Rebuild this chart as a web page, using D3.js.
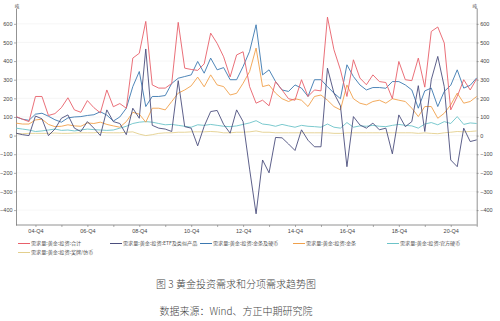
<!DOCTYPE html>
<meta charset="utf-8">
<head>
  <title>黄金投资需求和分项需求趋势图</title>
</head>

<style>
  body { margin: 0; background: #fff; }
  text { font-family: "Liberation Sans", "Noto Sans CJK SC", sans-serif; }
  .cjk { font-family: "Noto Sans CJK SC", sans-serif; }
</style>

<body>

  <div id="my_dataviz"></div>

  <script src="https://d3js.org/d3.v7.min.js"></script>

  <script>

  // quarters 04-Q1 ... 21-Q4
  var quarters = [];
  for (var yr = 4; yr <= 21; yr++) {
    for (var q = 1; q <= 4; q++) {
      quarters.push((yr < 10 ? "0" + yr : "" + yr) + "-Q" + q);
    }
  }

  var tickLabels = ["04-Q4", "06-Q4", "08-Q4", "10-Q4", "12-Q4", "14-Q4", "16-Q4", "18-Q4", "20-Q4"];
  var yTicks = [-400, -300, -200, -100, 0, 100, 200, 300, 400, 500, 600];

  // 需求量:黄金:投资:合计
  var totalInv = [102, 88, 75, 210, 210, 108, 118, 150, 203, 138,
    125, 188, 150, 122, 245, 155, 172, 147, 416, 442,
    613, 272, 255, 255, 280, 608, 362, 355, 350, 385,
    550, 495, 423, 315, 433, 450, 263, 174, 190, 160,
    290, 245, 198, 190, 300, 210, 245, 240, 636, 461,
    353, 210, 407, 309, 273, 326, 290, 285, 198, 398,
    300, 295, 416, 260, 559, 583, 497, 138, 210, 300,
    245, 305];

  // 需求量:黄金:投资:ETF及类似产品
  var etfInv = [13, 5, 0, 105, 90, 0, 35, 93, 111, 40,
    22, 75, 40, 0, 138, 75, 65, 5, 147, 93,
    465, 55, 40, 35, 22, 295, 48, 40, -55, 50,
    129, 135, 60, 13, 138, 75, -180, -420, -131, -200,
    -10, -12, -45, -80, 31, -25, -60, -60, 362, 228,
    160, -167, 102, 57, 40, 67, 31, 40, -98, 111,
    48, 75, 268, 22, 300, 425, 263, -131, -167, 40,
    -32, -23];

  // 需求量:黄金:投资:金条及硬币
  var barCoinInv = [100, 88, 82, 115, 120, 104, 85, 72, 95, 100,
    102, 108, 112, 128, 110, 78, 100, 147, 263, 344,
    156, 210, 210, 215, 280, 308, 317, 326, 398, 335,
    416, 353, 365, 300, 300, 371, 452, 595, 326, 353,
    290, 245, 237, 272, 255, 210, 300, 300, 263, 228,
    198, 380, 317, 272, 245, 258, 258, 254, 290, 290,
    272, 245, 147, 240, 255, 156, 237, 270, 353, 255,
    270, 310];

  // 需求量:黄金:投资:金条
  var barInv = [67, 62, 62, 84, 88, 60, 48, 50, 58, 52,
    50, 68, 65, 72, 60, 52, 45, 75, 125, 115,
    72, 147, 147, 138, 183, 228, 245, 267, 314, 262,
    326, 272, 263, 218, 227, 281, 344, 470, 263, 272,
    228, 198, 183, 198, 190, 156, 210, 218, 190, 156,
    138, 272, 198, 174, 165, 183, 190, 174, 198, 190,
    183, 147, 102, 156, 156, 93, 120, 165, 228, 174,
    183, 210];

  // 需求量:黄金:投资:官方硬币
  var officialCoinInv = [40, 35, 30, 22, 25, 30, 35, 28, 30, 25,
    30, 35, 32, 30, 28, 30, 40, 50, 65, 72,
    75, 72, 65, 58, 60, 55, 50, 45, 58, 55,
    60, 55, 50, 48, 52, 60, 68, 80, 62, 58,
    50, 60, 52, 45, 55, 50, 48, 45, 62, 45,
    40, 70, 45, 52, 50, 55, 50, 48, 55, 60,
    55, 52, 40, 62, 70, 58, 75, 65, 102, 60,
    68, 65];

  // 需求量:黄金:投资:奖牌/仿币
  var medalInv = [10, 10, 12, 12, 12, 12, 14, 12, 12, 14,
    15, 15, 15, 18, 15, 15, 15, 18, 20, 8,
    0, 5, 12, 15, 15, 18, 18, 20, 20, 20,
    22, 20, 15, 15, 18, 18, 20, 25, 18, 18,
    15, 15, 15, 15, 15, 15, 15, 15, 15, 12,
    12, 15, 15, 15, 15, 15, 15, 15, 15, 15,
    15, 15, 12, 15, 12, 10, 15, 18, 22, 20,
    22, 25];

  var seriesNames = ["需求量:黄金:投资:合计", "需求量:黄金:投资:ETF及类似产品", "需求量:黄金:投资:金条及硬币",
    "需求量:黄金:投资:金条", "需求量:黄金:投资:官方硬币", "需求量:黄金:投资:奖牌/仿币"];
  var seriesColors = ["#e8606a", "#4b4e7d", "#3b78b0", "#f0a04b", "#6cc3c8", "#e3cf8d"];

  var series = [
    {name: seriesNames[0], values: totalInv, color: seriesColors[0]},
    {name: seriesNames[1], values: etfInv, color: seriesColors[1]},
    {name: seriesNames[2], values: barCoinInv, color: seriesColors[2]},
    {name: seriesNames[3], values: barInv, color: seriesColors[3]},
    {name: seriesNames[4], values: officialCoinInv, color: seriesColors[4]},
    {name: seriesNames[5], values: medalInv, color: seriesColors[5]}
  ];

  var W = 500, H = 321;
  var plotL = 16, plotR = 476.7, plotT = 8, plotB = 225;

  var svg = d3.select("#my_dataviz")
    .append("svg")
      .attr("width", W)
      .attr("height", H);

  // scales
  var x = d3.scalePoint()
    .domain(quarters)
    .range([plotL, plotR]);

  var y = d3.scaleLinear()
    .domain([-480, 685])
    .range([plotB, plotT]);

  // light grid
  svg.append("g")
    .selectAll("line")
    .data(yTicks)
    .enter().append("line")
      .attr("x1", plotL).attr("x2", plotR)
      .attr("y1", function(d) { return y(d); })
      .attr("y2", function(d) { return y(d); })
      .attr("stroke", "#f0f0f0")
      .attr("stroke-width", 0.6);

  // left axis
  var yAxisL = svg.append("g")
    .attr("transform", "translate(" + plotL + ",0)")
    .call(d3.axisLeft(y).tickValues(yTicks).tickSize(2).tickPadding(1.5).tickSizeOuter(0));

  // right axis
  var yAxisR = svg.append("g")
    .attr("transform", "translate(" + plotR + ",0)")
    .call(d3.axisRight(y).tickValues(yTicks).tickSize(2).tickPadding(1.5).tickSizeOuter(0));

  // bottom axis, ticks every Q4, labels every other year
  var xAxis = svg.append("g")
    .attr("transform", "translate(0," + plotB + ")")
    .call(d3.axisBottom(x)
      .tickValues(quarters.filter(function(d) { return d.slice(3) === "Q4"; }))
      .tickFormat(function(d) { return tickLabels.indexOf(d) >= 0 ? d : ""; })
      .tickSize(2).tickPadding(2).tickSizeOuter(0));

  [yAxisL, yAxisR, xAxis].forEach(function(a) {
    a.select(".domain").attr("stroke", "#777").attr("stroke-width", 0.8);
    a.selectAll(".tick line").attr("stroke", "#777").attr("stroke-width", 0.6);
    a.selectAll(".tick text").attr("fill", "#444").style("font-size", "5.5px");
  });

  // make the bottom axis line span the full width
  xAxis.select(".domain").attr("d", "M" + plotL + ",0H" + plotR);

  // unit labels
  svg.append("text").attr("class", "cjk")
    .attr("x", plotL + 1).attr("y", 8)
    .attr("text-anchor", "middle")
    .style("font-size", "4.5px").attr("fill", "#444")
    .text("吨");
  svg.append("text").attr("class", "cjk")
    .attr("x", plotR - 2).attr("y", 8)
    .attr("text-anchor", "middle")
    .style("font-size", "4.5px").attr("fill", "#444")
    .text("吨");

  // lines, drawn so that the total sits on top
  var line = d3.line()
    .x(function(d, i) { return x(quarters[i]); })
    .y(function(d) { return y(d); });

  svg.append("g")
    .selectAll("path")
    .data(series.slice().reverse())
    .enter().append("path")
      .attr("d", function(d) { return line(d.values); })
      .attr("fill", "none")
      .attr("stroke", function(d) { return d.color; })
      .attr("stroke-width", 0.9)
      .attr("stroke-linejoin", "round");

  // legend
  var legendPos = [[18, 243.5], [110, 243.5], [200, 243.5], [293, 243.5], [387, 243.5], [18, 252.5]];
  var legend = svg.append("g")
    .selectAll("g")
    .data(series)
    .enter().append("g")
      .attr("transform", function(d, i) { return "translate(" + legendPos[i][0] + "," + legendPos[i][1] + ")"; });

  legend.append("rect")
    .attr("x", 0).attr("y", -0.5)
    .attr("width", 12).attr("height", 1)
    .attr("fill", function(d) { return d.color; });

  legend.append("text")
    .attr("class", "cjk")
    .attr("x", 13).attr("y", 1.8)
    .style("font-size", "5.1px")
    .attr("fill", "#555")
    .text(function(d) { return d.name; });

  // caption and source
  svg.append("text").attr("class", "cjk")
    .attr("x", 236).attr("y", 287.5)
    .attr("text-anchor", "middle")
    .style("font-size", "10px").style("font-weight", 300).attr("fill", "#444")
    .text("图 3 黄金投资需求和分项需求趋势图");

  svg.append("text").attr("class", "cjk")
    .attr("x", 236).attr("y", 314.5)
    .attr("text-anchor", "middle")
    .style("font-size", "10px").style("font-weight", 300).attr("fill", "#444")
    .text("数据来源：Wind、方正中期研究院");

  </script>
</body>
</html>
